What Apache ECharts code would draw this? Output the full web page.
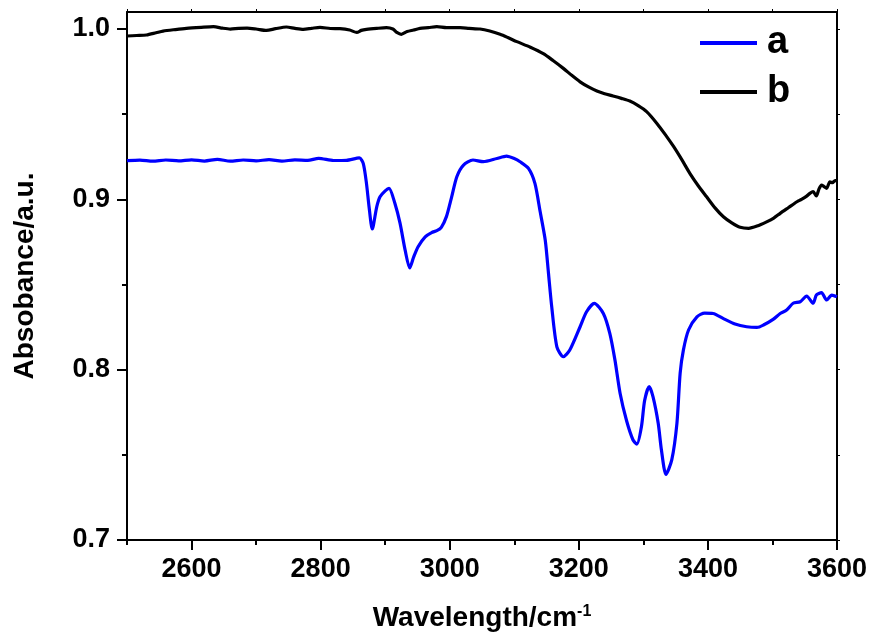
<!DOCTYPE html>
<html>
<head>
<meta charset="utf-8">
<script src="https://cdn.jsdelivr.net/npm/echarts@6/dist/echarts.min.js"></script>
<style>html,body{margin:0;padding:0;background:#fff}#c{width:871px;height:639px}</style>
</head>
<body>
<div id="c"></div>
<script>
// ---- data ----
const seriesNames = ['a', 'b'];
const waveA = [2500,2520,2540,2560,2580,2600,2620,2640,2660,2680,2700,2720,2740,2760,2780,2797,2820,2840,2860,2866,2871,2875,2880,2887,2892,2900,2906,2915,2923,2931,2938,2944,2951,2962,2972,2980,2987,2995,3003,3011,3021,3036,3052,3073,3088,3100,3109,3122,3132,3140,3148,3153,3158,3166,3176,3186,3202,3212,3224,3238,3248,3256,3264,3274,3284,3290,3297,3302,3309,3315,3323,3328,3335,3344,3352,3357,3362,3370,3383,3395,3408,3424,3442,3460,3476,3486,3501,3512,3522,3532,3543,3553,3563,3568,3576,3584,3592,3600];
const absA = [0.9227,0.9230,0.9224,0.9231,0.9226,0.9232,0.9225,0.9235,0.9224,0.9231,0.9226,0.9233,0.9224,0.9232,0.9229,0.9241,0.9228,0.9229,0.9243,0.9211,0.9094,0.8957,0.8826,0.8957,0.9015,0.9050,0.9065,0.8977,0.8860,0.8700,0.8597,0.8660,0.8722,0.8780,0.8805,0.8816,0.8836,0.8900,0.9015,0.9133,0.9200,0.9231,0.9221,0.9240,0.9254,0.9240,0.9221,0.9182,0.9094,0.8930,0.8760,0.8566,0.8370,0.8134,0.8076,0.8115,0.8252,0.8340,0.8389,0.8330,0.8213,0.8056,0.7860,0.7700,0.7587,0.7563,0.7665,0.7820,0.7900,0.7840,0.7685,0.7528,0.7385,0.7470,0.7685,0.7980,0.8115,0.8233,0.8310,0.8332,0.8330,0.8300,0.8268,0.8252,0.8248,0.8262,0.8295,0.8330,0.8350,0.8390,0.8399,0.8432,0.8390,0.8438,0.8452,0.8409,0.8438,0.8428];
const waveB = [2500,2515,2530,2545,2556,2575,2592,2615,2634,2648,2660,2673,2686,2700,2716,2730,2747,2760,2773,2786,2799,2815,2830,2845,2856,2863,2871,2887,2902,2912,2918,2925,2934,2944,2954,2967,2980,2995,3016,3030,3047,3062,3078,3090,3104,3125,3145,3160,3176,3190,3202,3215,3228,3240,3253,3266,3279,3292,3305,3321,3334,3347,3360,3372,3385,3398,3411,3424,3437,3450,3463,3476,3491,3502,3512,3525,3538,3545,3553,3558,3563,3568,3572,3576,3580,3584,3589,3593,3597,3600];
const absB = [0.9959,0.9962,0.9965,0.9978,0.9988,0.9997,1.0004,1.0010,1.0014,1.0005,1.0000,1.0004,1.0005,1.0000,0.9992,1.0002,1.0012,1.0004,0.9998,1.0004,1.0010,1.0003,1.0002,0.9994,0.9980,0.9992,0.9998,1.0004,1.0008,1.0000,0.9980,0.9969,0.9985,0.9994,1.0004,1.0008,1.0014,1.0008,1.0008,1.0004,1.0000,0.9988,0.9969,0.9950,0.9926,0.9893,0.9855,0.9815,0.9769,0.9725,0.9690,0.9660,0.9636,0.9620,0.9607,0.9593,0.9577,0.9550,0.9515,0.9446,0.9380,0.9309,0.9230,0.9153,0.9080,0.9015,0.8950,0.8898,0.8862,0.8836,0.8830,0.8843,0.8868,0.8890,0.8918,0.8952,0.8986,0.9000,0.9019,0.9035,0.9045,0.9020,0.9060,0.9084,0.9075,0.9065,0.9103,0.9098,0.9110,0.9110];
const xTickLabels = [2600,2800,3000,3200,3400,3600];
const xMinorTicks = [2500,2700,2900,3100,3300,3500];
const yTickLabels = [0.7,0.8,0.9,1.0];
const yMinorTicks = [0.75,0.85,0.95];
const xAllTicks = [2500,2600,2700,2800,2900,3000,3100,3200,3300,3400,3500,3600];
const yAllTicks = [0.7,0.75,0.8,0.85,0.9,0.95,1.0];
const xRange = [2500, 3600];
const yRange = [0.7, 1.01];

const FONT = '"Liberation Sans", Arial, sans-serif';
const chart = echarts.init(document.getElementById('c'), null, {renderer: 'canvas'});
const pairs = (xs, ys) => xs.map((x, i) => [x, ys[i]]);

chart.setOption({
  animation: false,
  backgroundColor: '#fff',
  grid: {left: 127, right: 34, top: 12, bottom: 99, containLabel: false, outerBoundsMode: 'none'},
  legend: {
    orient: 'vertical', left: 700, top: 24, padding: 0,
    itemWidth: 57, itemHeight: 4, itemGap: 11, icon: 'rect',
    textStyle: {fontFamily: FONT, fontWeight: 'bold', fontSize: 38, color: '#000', padding: [0,0,0,5]},
    data: seriesNames
  },
  xAxis: [{
    type: 'value', min: xRange[0], max: xRange[1], position: 'bottom',
    name: '{t|Wavelength/cm}{s|-1}', nameLocation: 'middle', nameGap: 64,
    nameTextStyle: {rich: {
      t: {fontFamily: FONT, fontWeight: 'bold', fontSize: 28, color: '#000'},
      s: {fontFamily: FONT, fontWeight: 'bold', fontSize: 16, color: '#000', verticalAlign: 'top', padding: [0,0,12,0]}
    }},
    axisLine: {show: true, lineStyle: {color: '#000', width: 2}},
    axisTick: {show: true, inside: false, length: 10, lineStyle: {color: '#000', width: 2}, customValues: xTickLabels},
    axisLabel: {show: true, margin: 16, fontFamily: FONT, fontWeight: 'bold', fontSize: 27, color: '#000', customValues: xTickLabels, formatter: v => String(v)},
    splitLine: {show: false}
  }, {
    type: 'value', min: xRange[0], max: xRange[1], position: 'bottom',
    axisLine: {show: false},
    axisTick: {show: true, length: 5, lineStyle: {color: '#000', width: 2}, customValues: xMinorTicks},
    axisLabel: {show: false}, splitLine: {show: false}
  }, {
    type: 'value', min: xRange[0], max: xRange[1], position: 'top',
    axisLine: {show: true, lineStyle: {color: '#000', width: 2}},
    axisTick: {show: true, length: 3, lineStyle: {color: '#000', width: 1}, customValues: xAllTicks},
    axisLabel: {show: false}, splitLine: {show: false}
  }],
  yAxis: [{
    type: 'value', min: yRange[0], max: yRange[1], position: 'left',
    name: 'Absobance/a.u.', nameLocation: 'middle', nameGap: 88, nameRotate: 90,
    nameTextStyle: {fontFamily: FONT, fontWeight: 'bold', fontSize: 28, color: '#000'},
    axisLine: {show: true, lineStyle: {color: '#000', width: 2}},
    axisTick: {show: true, length: 10, lineStyle: {color: '#000', width: 2}, customValues: yTickLabels},
    axisLabel: {show: true, margin: 17, fontFamily: FONT, fontWeight: 'bold', fontSize: 27, color: '#000', customValues: yTickLabels, formatter: v => v.toFixed(1)},
    splitLine: {show: false}
  }, {
    type: 'value', min: yRange[0], max: yRange[1], position: 'left',
    axisLine: {show: false},
    axisTick: {show: true, length: 5, lineStyle: {color: '#000', width: 2}, customValues: yMinorTicks},
    axisLabel: {show: false}, splitLine: {show: false}
  }, {
    type: 'value', min: yRange[0], max: yRange[1], position: 'right',
    axisLine: {show: true, lineStyle: {color: '#000', width: 2}},
    axisTick: {show: true, length: 3, lineStyle: {color: '#000', width: 1}, customValues: yAllTicks},
    axisLabel: {show: false}, splitLine: {show: false}
  }],
  series: [{
    name: seriesNames[0], type: 'line', xAxisIndex: 0, yAxisIndex: 0,
    data: pairs(waveA, absA), showSymbol: false, symbol: 'none', smooth: 0.25,
    lineStyle: {color: '#0000ff', width: 3.2}, itemStyle: {color: '#0000ff'}
  }, {
    name: seriesNames[1], type: 'line', xAxisIndex: 0, yAxisIndex: 0,
    data: pairs(waveB, absB), showSymbol: false, symbol: 'none', smooth: 0.25,
    lineStyle: {color: '#000000', width: 3.2}, itemStyle: {color: '#000000'}
  }]
});
</script>
</body>
</html>
